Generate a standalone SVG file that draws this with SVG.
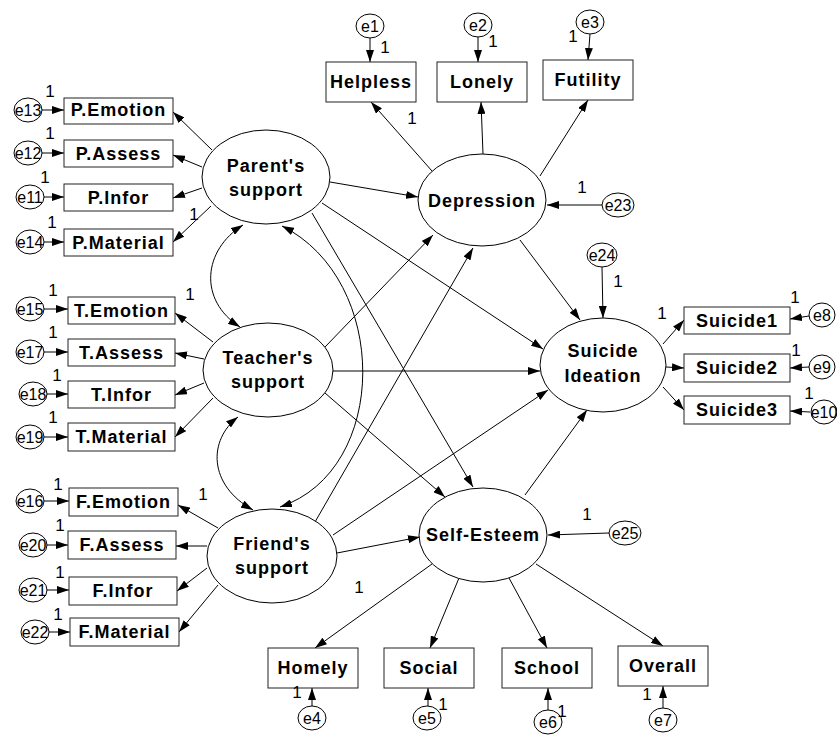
<svg xmlns="http://www.w3.org/2000/svg" width="837" height="736" viewBox="0 0 837 736">
<style>
.bg{fill:#fff}
.lat{fill:#fff;stroke:#000;stroke-width:1}
.box{fill:#fff;stroke:#222;stroke-width:1}
.err{fill:#fff;stroke:#000;stroke-width:1}
.c{fill:none;stroke:#000;stroke-width:1;marker-end:url(#a)}
.b{fill:none;stroke:#000;stroke-width:1;marker-end:url(#a);marker-start:url(#a)}
.lt{font-family:"Liberation Sans",Arial,sans-serif;font-weight:bold;font-size:18px;letter-spacing:1px;text-anchor:middle;fill:#000}
.bt{font-family:"Liberation Sans",Arial,sans-serif;font-weight:bold;font-size:18px;letter-spacing:1px;text-anchor:middle;fill:#000}
.et{font-family:"Liberation Sans",Arial,sans-serif;font-size:16px;text-anchor:middle;fill:#000}
.n{font-family:"Liberation Sans",Arial,sans-serif;font-size:17px;text-anchor:middle;fill:#000}
</style>
<defs>
<marker id="a" viewBox="0 0 12 8" refX="12" refY="4" markerWidth="12" markerHeight="8" orient="auto-start-reverse" markerUnits="userSpaceOnUse"><path d="M0,0 L12,4 L0,8 z" fill="#000"/></marker>
</defs>
<rect class="bg" x="0" y="0" width="837" height="736"/>

<g id="connectors">
<line class="c" x1="42" y1="110" x2="64" y2="110"/>
<line class="c" x1="42" y1="153" x2="64" y2="153"/>
<line class="c" x1="44" y1="197" x2="64" y2="197"/>
<line class="c" x1="44" y1="242" x2="64" y2="242"/>
<line class="c" x1="44" y1="309" x2="68" y2="309"/>
<line class="c" x1="44" y1="352" x2="68" y2="352"/>
<line class="c" x1="47" y1="394" x2="68" y2="394"/>
<line class="c" x1="44" y1="437" x2="68" y2="437"/>
<line class="c" x1="44" y1="501" x2="69" y2="501"/>
<line class="c" x1="47" y1="545" x2="68" y2="545"/>
<line class="c" x1="47" y1="590" x2="69" y2="590"/>
<line class="c" x1="49" y1="632" x2="70" y2="632"/>
<line class="c" x1="370" y1="38" x2="370" y2="62"/>
<line class="c" x1="478" y1="37" x2="478" y2="62"/>
<line class="c" x1="590" y1="34" x2="588" y2="60"/>
<line class="c" x1="602" y1="205" x2="547" y2="205"/>
<line class="c" x1="602" y1="267" x2="603" y2="318"/>
<line class="c" x1="809" y1="316" x2="790" y2="319"/>
<line class="c" x1="809" y1="367" x2="790" y2="368"/>
<line class="c" x1="810" y1="412" x2="790" y2="411"/>
<line class="c" x1="609" y1="533" x2="548" y2="535"/>
<line class="c" x1="312" y1="706" x2="312" y2="688"/>
<line class="c" x1="428" y1="706" x2="428" y2="688"/>
<line class="c" x1="548" y1="710" x2="548" y2="688"/>
<line class="c" x1="663" y1="708" x2="663" y2="686"/>
<line class="c" x1="212" y1="150" x2="173" y2="112"/>
<line class="c" x1="202" y1="167" x2="173" y2="155"/>
<line class="c" x1="202" y1="188" x2="173" y2="198"/>
<line class="c" x1="211" y1="206" x2="173" y2="242"/>
<line class="c" x1="213" y1="342" x2="175" y2="313"/>
<line class="c" x1="204" y1="359" x2="175" y2="353"/>
<line class="c" x1="204" y1="383" x2="175" y2="395"/>
<line class="c" x1="213" y1="398" x2="175" y2="437"/>
<line class="c" x1="218" y1="528" x2="178" y2="505"/>
<line class="c" x1="207" y1="546" x2="176" y2="546"/>
<line class="c" x1="207" y1="568" x2="177" y2="591"/>
<line class="c" x1="218" y1="585" x2="179" y2="632"/>
<line class="c" x1="432" y1="171" x2="371" y2="102"/>
<line class="c" x1="483" y1="154" x2="481" y2="102"/>
<line class="c" x1="540" y1="176" x2="588" y2="100"/>
<line class="c" x1="663" y1="344" x2="684" y2="320"/>
<line class="c" x1="666" y1="367" x2="684" y2="368"/>
<line class="c" x1="663" y1="387" x2="684" y2="410"/>
<line class="c" x1="432" y1="564" x2="315" y2="648"/>
<line class="c" x1="459" y1="578" x2="430" y2="648"/>
<line class="c" x1="509" y1="578" x2="547" y2="648"/>
<line class="c" x1="536" y1="564" x2="663" y2="646"/>
<line class="c" x1="330" y1="182" x2="418" y2="197"/>
<line class="c" x1="322" y1="203" x2="543" y2="349"/>
<line class="c" x1="312" y1="213" x2="473" y2="487"/>
<line class="c" x1="325" y1="347" x2="433" y2="235"/>
<line class="c" x1="315" y1="522" x2="473" y2="248"/>
<line class="c" x1="333" y1="371" x2="540" y2="371"/>
<line class="c" x1="325" y1="393" x2="445" y2="497"/>
<line class="c" x1="333" y1="535" x2="548" y2="390"/>
<line class="c" x1="337" y1="553" x2="420" y2="537"/>
<line class="c" x1="525" y1="495" x2="587" y2="410"/>
<line class="c" x1="520" y1="240" x2="580" y2="320"/>
<path class="b" d="M243,225 C203,250 198,300 240,327"/>
<path class="b" d="M238,417 C208,440 208,485 253,510"/>
<path class="b" d="M282,226 C390,280 390,470 280,507"/>
</g>

<g id="parent"><ellipse class="lat" cx="266" cy="177" rx="64" ry="47"/><text class="lt" x="266" y="172">Parent's</text><text class="lt" x="266" y="196">support</text></g>
<g id="teacher"><ellipse class="lat" cx="268" cy="370" rx="65" ry="47"/><text class="lt" x="268" y="364">Teacher's</text><text class="lt" x="268" y="388">support</text></g>
<g id="friend"><ellipse class="lat" cx="272" cy="556" rx="65" ry="47"/><text class="lt" x="272" y="550">Friend's</text><text class="lt" x="272" y="574">support</text></g>
<g id="depression"><ellipse class="lat" cx="482" cy="200" rx="64" ry="46"/><text class="lt" x="482" y="207">Depression</text></g>
<g id="suicide"><ellipse class="lat" cx="603" cy="365" rx="63" ry="47"/><text class="lt" x="603" y="357">Suicide</text><text class="lt" x="603" y="382">Ideation</text></g>
<g id="selfesteem"><ellipse class="lat" cx="483" cy="535" rx="64" ry="47"/><text class="lt" x="483" y="541">Self-Esteem</text></g>

<g id="pemotion"><rect class="box" x="64" y="98" width="109" height="26"/><text class="bt" x="118.5" y="116">P.Emotion</text></g>
<g id="passess"><rect class="box" x="64" y="140" width="109" height="27"/><text class="bt" x="118.5" y="160">P.Assess</text></g>
<g id="pinfor"><rect class="box" x="64" y="184" width="109" height="27"/><text class="bt" x="118.5" y="204">P.Infor</text></g>
<g id="pmaterial"><rect class="box" x="64" y="229" width="109" height="27"/><text class="bt" x="118.5" y="249">P.Material</text></g>
<g id="temotion"><rect class="box" x="68" y="297" width="107" height="27"/><text class="bt" x="121.5" y="317">T.Emotion</text></g>
<g id="tassess"><rect class="box" x="68" y="339" width="107" height="27"/><text class="bt" x="121.5" y="359">T.Assess</text></g>
<g id="tinfor"><rect class="box" x="68" y="381" width="107" height="27"/><text class="bt" x="121.5" y="401">T.Infor</text></g>
<g id="tmaterial"><rect class="box" x="68" y="423" width="107" height="28"/><text class="bt" x="121.5" y="443">T.Material</text></g>
<g id="femotion"><rect class="box" x="69" y="488" width="109" height="28"/><text class="bt" x="123.5" y="508">F.Emotion</text></g>
<g id="fassess"><rect class="box" x="68" y="531" width="108" height="28"/><text class="bt" x="122" y="551">F.Assess</text></g>
<g id="finfor"><rect class="box" x="69" y="577" width="108" height="28"/><text class="bt" x="123" y="597">F.Infor</text></g>
<g id="fmaterial"><rect class="box" x="70" y="618" width="109" height="28"/><text class="bt" x="124.5" y="638">F.Material</text></g>
<g id="helpless"><rect class="box" x="326" y="62" width="90" height="40"/><text class="bt" x="371" y="88">Helpless</text></g>
<g id="lonely"><rect class="box" x="437" y="62" width="90" height="40"/><text class="bt" x="482" y="88">Lonely</text></g>
<g id="futility"><rect class="box" x="543" y="60" width="90" height="40"/><text class="bt" x="588" y="86">Futility</text></g>
<g id="suicide1"><rect class="box" x="684" y="307" width="106" height="27"/><text class="bt" x="737" y="327">Suicide1</text></g>
<g id="suicide2"><rect class="box" x="684" y="354" width="106" height="28"/><text class="bt" x="737" y="374">Suicide2</text></g>
<g id="suicide3"><rect class="box" x="684" y="396" width="106" height="28"/><text class="bt" x="737" y="416">Suicide3</text></g>
<g id="homely"><rect class="box" x="268" y="648" width="90" height="40"/><text class="bt" x="313" y="674">Homely</text></g>
<g id="social"><rect class="box" x="384" y="648" width="90" height="40"/><text class="bt" x="429" y="674">Social</text></g>
<g id="school"><rect class="box" x="502" y="648" width="90" height="40"/><text class="bt" x="547" y="674">School</text></g>
<g id="overall"><rect class="box" x="618" y="646" width="90" height="40"/><text class="bt" x="663" y="672">Overall</text></g>

<g id="e13"><ellipse class="err" cx="28" cy="110" rx="14" ry="12"/><text class="et" x="28" y="116">e13</text></g>
<g id="e12"><ellipse class="err" cx="28" cy="153" rx="14" ry="12"/><text class="et" x="28" y="159">e12</text></g>
<g id="e11"><ellipse class="err" cx="30" cy="197" rx="14" ry="12"/><text class="et" x="30" y="203">e11</text></g>
<g id="e14"><ellipse class="err" cx="30" cy="242" rx="14" ry="12"/><text class="et" x="30" y="248">e14</text></g>
<g id="e15"><ellipse class="err" cx="30" cy="309" rx="14" ry="12"/><text class="et" x="30" y="315">e15</text></g>
<g id="e17"><ellipse class="err" cx="30" cy="352" rx="14" ry="12"/><text class="et" x="30" y="358">e17</text></g>
<g id="e18"><ellipse class="err" cx="33" cy="394" rx="14" ry="12"/><text class="et" x="33" y="400">e18</text></g>
<g id="e19"><ellipse class="err" cx="30" cy="437" rx="14" ry="12"/><text class="et" x="30" y="443">e19</text></g>
<g id="e16"><ellipse class="err" cx="30" cy="501" rx="14" ry="12"/><text class="et" x="30" y="507">e16</text></g>
<g id="e20"><ellipse class="err" cx="33" cy="545" rx="14" ry="12"/><text class="et" x="33" y="551">e20</text></g>
<g id="e21"><ellipse class="err" cx="33" cy="590" rx="14" ry="12"/><text class="et" x="33" y="596">e21</text></g>
<g id="e22"><ellipse class="err" cx="35" cy="632" rx="14" ry="12"/><text class="et" x="35" y="638">e22</text></g>
<g id="e1"><ellipse class="err" cx="370" cy="26" rx="14" ry="12"/><text class="et" x="370" y="32">e1</text></g>
<g id="e2"><ellipse class="err" cx="478" cy="25" rx="14" ry="12"/><text class="et" x="478" y="31">e2</text></g>
<g id="e3"><ellipse class="err" cx="590" cy="22" rx="14" ry="12"/><text class="et" x="590" y="28">e3</text></g>
<g id="e23"><ellipse class="err" cx="618" cy="205" rx="16" ry="12"/><text class="et" x="618" y="211">e23</text></g>
<g id="e24"><ellipse class="err" cx="602" cy="255" rx="15" ry="12"/><text class="et" x="602" y="261">e24</text></g>
<g id="e8"><ellipse class="err" cx="822" cy="315" rx="13" ry="12"/><text class="et" x="822" y="321">e8</text></g>
<g id="e9"><ellipse class="err" cx="822" cy="367" rx="13" ry="12"/><text class="et" x="822" y="373">e9</text></g>
<g id="e10"><ellipse class="err" cx="824" cy="412" rx="13" ry="12"/><text class="et" x="824" y="418">e10</text></g>
<g id="e25"><ellipse class="err" cx="625" cy="533" rx="16" ry="12"/><text class="et" x="625" y="539">e25</text></g>
<g id="e4"><ellipse class="err" cx="312" cy="718" rx="14" ry="12"/><text class="et" x="312" y="724">e4</text></g>
<g id="e5"><ellipse class="err" cx="427" cy="718" rx="14" ry="12"/><text class="et" x="427" y="724">e5</text></g>
<g id="e6"><ellipse class="err" cx="548" cy="722" rx="14" ry="12"/><text class="et" x="548" y="728">e6</text></g>
<g id="e7"><ellipse class="err" cx="663" cy="720" rx="14" ry="12"/><text class="et" x="663" y="726">e7</text></g>

<g id="weights">
<text class="n" x="50" y="97">1</text>
<text class="n" x="50" y="139">1</text>
<text class="n" x="45" y="183">1</text>
<text class="n" x="52" y="228">1</text>
<text class="n" x="194" y="220">1</text>
<text class="n" x="53" y="296">1</text>
<text class="n" x="53" y="338">1</text>
<text class="n" x="57" y="381">1</text>
<text class="n" x="53" y="423">1</text>
<text class="n" x="190" y="300">1</text>
<text class="n" x="58" y="490">1</text>
<text class="n" x="60" y="531">1</text>
<text class="n" x="60" y="578">1</text>
<text class="n" x="58" y="620">1</text>
<text class="n" x="203" y="500">1</text>
<text class="n" x="385" y="53">1</text>
<text class="n" x="493" y="47">1</text>
<text class="n" x="573" y="42">1</text>
<text class="n" x="412" y="124">1</text>
<text class="n" x="582" y="193">1</text>
<text class="n" x="618" y="287">1</text>
<text class="n" x="662" y="319">1</text>
<text class="n" x="795" y="303">1</text>
<text class="n" x="796" y="356">1</text>
<text class="n" x="809" y="399">1</text>
<text class="n" x="587" y="520">1</text>
<text class="n" x="359" y="593">1</text>
<text class="n" x="297" y="698">1</text>
<text class="n" x="443" y="710">1</text>
<text class="n" x="562" y="717">1</text>
<text class="n" x="647" y="700">1</text>
</g>
</svg>
